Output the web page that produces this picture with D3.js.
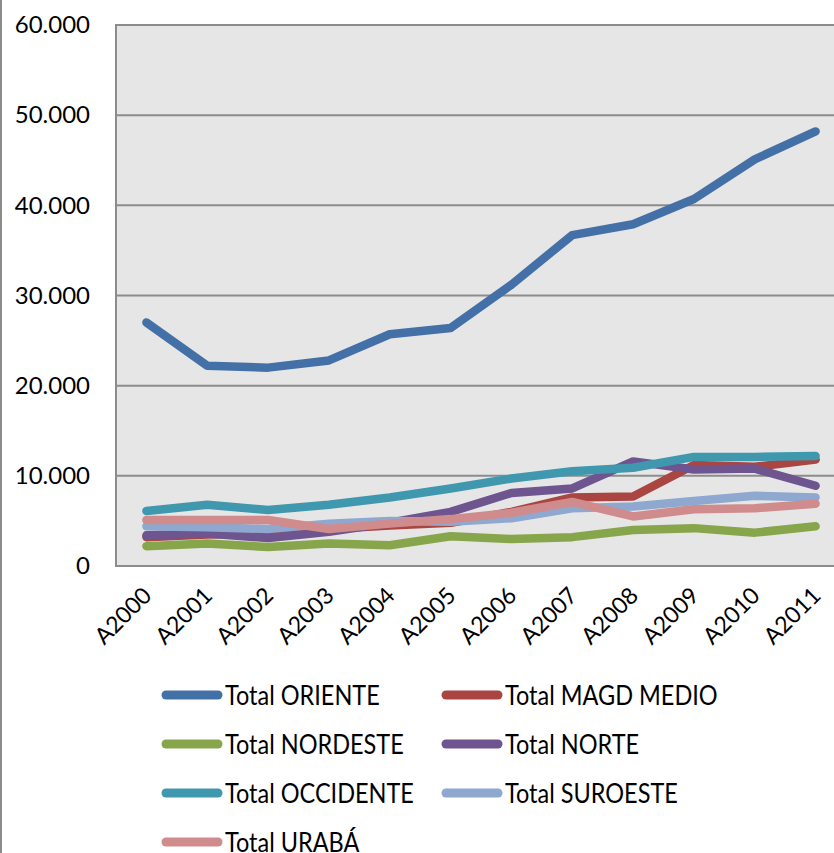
<!DOCTYPE html>
<html>
<head>
<meta charset="utf-8">
<script src="https://cdn.jsdelivr.net/npm/d3@7"></script>
<style>
  body { margin: 0; background: #fff; }
  #chart { width: 834px; height: 853px; }
  .tick text { font-family: Lato, "Liberation Sans", sans-serif; fill: #000; }
  .legend text { font-family: Lato, "Liberation Sans", sans-serif; font-size: 27px; fill: #000; }
</style>
</head>
<body>
<div id="chart"></div>
<script>
// categories and values
const years = ["A2000", "A2001", "A2002", "A2003", "A2004", "A2005", "A2006", "A2007", "A2008", "A2009", "A2010", "A2011"];
const yTicks = [0, 10000, 20000, 30000, 40000, 50000, 60000];

const oriente   = [27000, 22200, 22000, 22800, 25700, 26400, 31200, 36700, 37900, 40700, 45100, 48200];
const magdMedio = [3200, 3500, 3600, 4100, 4500, 4800, 6000, 7600, 7700, 11200, 11000, 11800];
const nordeste  = [2200, 2500, 2100, 2500, 2300, 3300, 3000, 3200, 4000, 4200, 3700, 4400];
const norte     = [3400, 3600, 3100, 3800, 4800, 6000, 8100, 8600, 11600, 10700, 10800, 8900];
const occidente = [6100, 6800, 6200, 6800, 7600, 8600, 9700, 10500, 10900, 12100, 12100, 12200];
const suroeste  = [4400, 4300, 4100, 4700, 5000, 4900, 5300, 6400, 6600, 7200, 7800, 7600];
const uraba     = [5100, 5100, 5100, 4100, 4700, 5200, 5900, 7100, 5500, 6300, 6400, 6900];

const seriesNames = ["Total ORIENTE", "Total MAGD MEDIO", "Total NORDESTE", "Total NORTE", "Total OCCIDENTE", "Total SUROESTE", "Total URABÁ"];
const seriesValues = [oriente, magdMedio, nordeste, norte, occidente, suroeste, uraba];
const colors = ["#4470A8", "#AA4542", "#87A54B", "#6E558F", "#3F98AE", "#8EA8CF", "#D08C8C"];

const width = 834;
const height = 853;
const margin = { top: 25, left: 116, right: -12, bottom: 287 };

const svg = d3.select("#chart")
    .append("svg")
    .attr("width", width)
    .attr("height", height);

// outer chart border on the left
svg.append("line")
    .attr("x1", 1).attr("x2", 1)
    .attr("y1", 0).attr("y2", height)
    .attr("stroke", "#8c8c8c")
    .attr("stroke-width", 2);

const xScale = d3.scalePoint()
    .domain(years)
    .range([margin.left, width - margin.right])
    .padding(0.5);

const yScale = d3.scaleLinear()
    .domain([0, 60000])
    .range([height - margin.bottom, margin.top]);

// plot area
svg.append("rect")
    .attr("x", margin.left)
    .attr("y", margin.top)
    .attr("width", width - margin.right - margin.left)
    .attr("height", height - margin.bottom - margin.top)
    .attr("fill", "#e6e6e6")
    .attr("stroke", "#8c8c8c")
    .attr("stroke-width", 2);

// gridlines
svg.append("g")
    .selectAll("line")
    .data(yTicks.slice(1))
    .enter()
    .append("line")
    .attr("x1", margin.left)
    .attr("x2", width - margin.right)
    .attr("y1", d => yScale(d))
    .attr("y2", d => yScale(d))
    .attr("stroke", "#8c8c8c")
    .attr("stroke-width", 2);

// y axis
const yAxis = svg.append("g")
    .attr("transform", `translate(${margin.left},0)`)
    .call(d3.axisLeft(yScale)
        .tickValues(yTicks)
        .tickSize(0)
        .tickPadding(26)
        .tickFormat(d => d === 0 ? "0" : d3.format(",")(d).replace(/,/g, ".")));
yAxis.select(".domain").remove();
yAxis.selectAll("text").attr("font-size", 24);

// x axis
const xAxis = svg.append("g")
    .attr("transform", `translate(0,${height - margin.bottom})`)
    .call(d3.axisBottom(xScale).tickSize(0).tickPadding(0));
xAxis.select(".domain").remove();
xAxis.selectAll("text")
    .attr("font-size", 23)
    .attr("text-anchor", "end")
    .attr("dy", 0)
    .attr("transform", "translate(6,31) rotate(-45)");

// lines
const line = d3.line()
    .x((d, i) => xScale(years[i]))
    .y(d => yScale(d));

svg.append("g")
    .selectAll("path")
    .data(seriesValues)
    .enter()
    .append("path")
    .attr("d", d => line(d))
    .attr("fill", "none")
    .attr("stroke", (d, i) => colors[i])
    .attr("stroke-width", 8.5)
    .attr("stroke-linejoin", "round")
    .attr("stroke-linecap", "round");

// legend
const legend = svg.append("g").attr("class", "legend");
const legendItems = legend.selectAll("g")
    .data(seriesNames)
    .enter()
    .append("g")
    .attr("transform", (d, i) => `translate(${i % 2 === 0 ? 166 : 446},${695 + Math.floor(i / 2) * 49})`);

legendItems.append("line")
    .attr("x1", 0).attr("x2", 52)
    .attr("y1", 0).attr("y2", 0)
    .attr("stroke", (d, i) => colors[i])
    .attr("stroke-width", 9)
    .attr("stroke-linecap", "round");

// condensed look of the original legend font
legendItems.append("text")
    .attr("transform", "translate(59,0) scale(0.87,1)")
    .attr("dy", "0.36em")
    .text(d => d);
</script>
</body>
</html>
